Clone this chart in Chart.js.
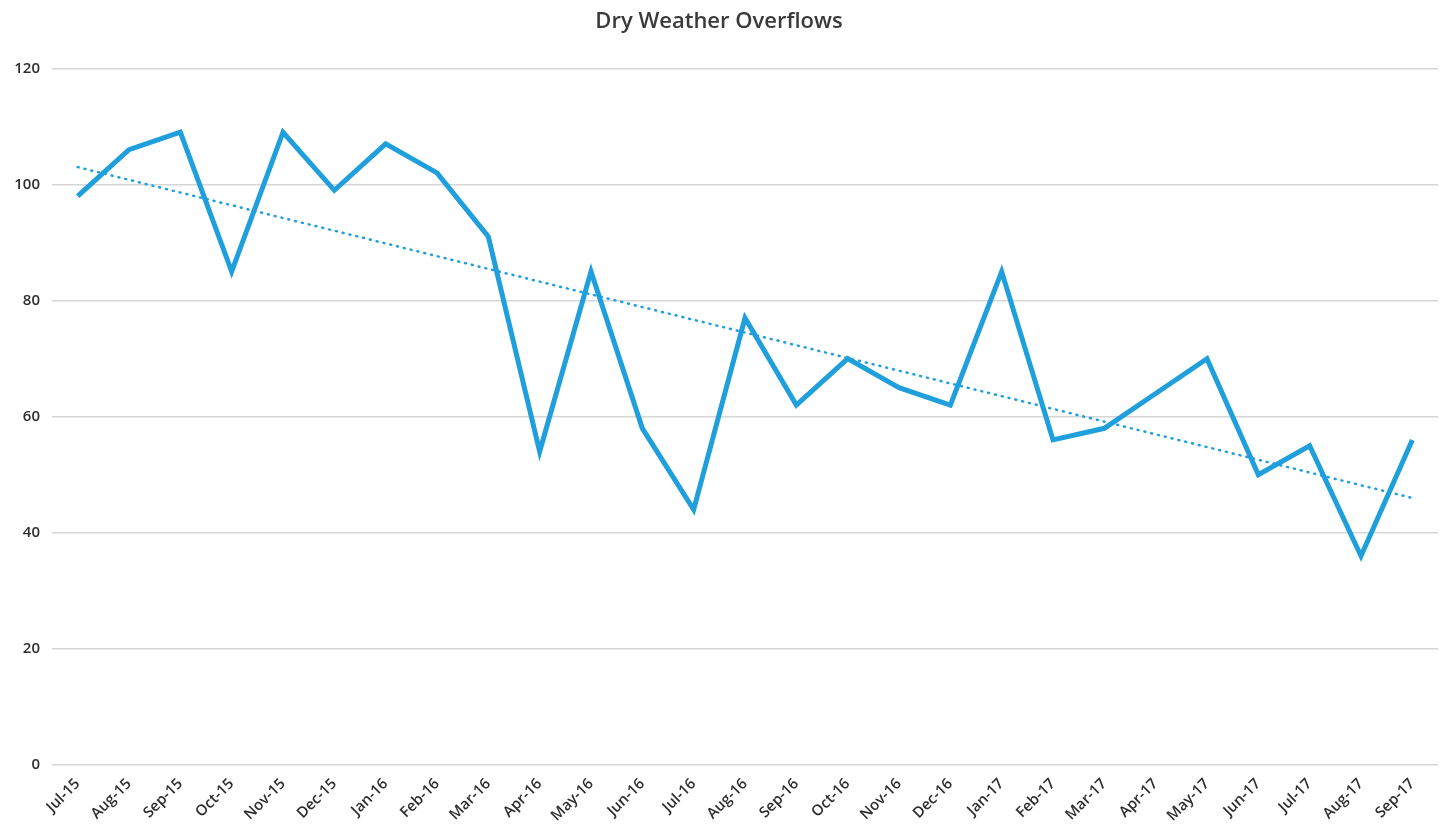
<!DOCTYPE html>
<html>
<head>
<meta charset="utf-8">
<script src="https://cdn.jsdelivr.net/npm/chart.js@4"></script>
<style>
  html, body { margin: 0; padding: 0; background: #ffffff; }
  #wrap { width: 1448px; height: 840px; position: relative; }
</style>
</head>
<body>
<div id="wrap"><canvas id="chart"></canvas></div>
<script>
const months = ['Jul-15', 'Aug-15', 'Sep-15', 'Oct-15', 'Nov-15', 'Dec-15', 'Jan-16', 'Feb-16', 'Mar-16',
    'Apr-16', 'May-16', 'Jun-16', 'Jul-16', 'Aug-16', 'Sep-16', 'Oct-16', 'Nov-16', 'Dec-16',
    'Jan-17', 'Feb-17', 'Mar-17', 'Apr-17', 'May-17', 'Jun-17', 'Jul-17', 'Aug-17', 'Sep-17'];
const overflows = [98, 106, 109, 85, 109, 99, 107, 102, 91,
    54, 85, 58, 44, 77, 62, 70, 65, 62,
    85, 56, 58, 64, 70, 50, 55, 36, 56];
// trend line at its two ends
const trend = [103, null, null, null, null, null, null, null, null,
    null, null, null, null, null, null, null, null, null,
    null, null, null, null, null, null, null, null, 46];

const blue = '#1f9fdc';

const ctx = document.getElementById('chart').getContext('2d');
new Chart(ctx, {
    type: 'line',
    data: {
        labels: months,
        datasets: [{
            label: 'Dry Weather Overflows',
            data: overflows,
            borderColor: blue,
            borderWidth: 5,
            pointRadius: 0,
            tension: 0,
            borderJoinStyle: 'miter',
            fill: false
        }, {
            label: 'Trend',
            data: trend,
            borderColor: blue,
            borderWidth: 2.5,
            borderDash: [1, 6],
            borderCapStyle: 'round',
            pointRadius: 0,
            spanGaps: true,
            fill: false
        }]
    },
    options: {
        responsive: true,
        maintainAspectRatio: false,
        animation: false,
        layout: { padding: { top: 5, right: 10, left: 0, bottom: 0 } },
        plugins: {
            legend: { display: false },
            tooltip: { enabled: false },
            title: {
                display: true,
                text: 'Dry Weather Overflows',
                color: '#3a3a3a',
                font: { family: 'Open Sans', size: 22, weight: '600' },
                padding: { top: 4, bottom: 33 }
            }
        },
        scales: {
            x: {
                offset: true,
                grid: { display: false },
                border: { display: false },
                ticks: {
                    color: '#2e2e2e',
                    font: { family: 'Open Sans', size: 15, weight: '600' },
                    maxRotation: 45,
                    minRotation: 45,
                    autoSkip: false,
                    padding: 2
                },
                afterFit: (scale) => { scale.height = 75; }
            },
            y: {
                min: 0,
                max: 120,
                grid: { color: '#d6d6d6', lineWidth: 1.5, drawTicks: false },
                border: { display: false },
                ticks: {
                    stepSize: 20,
                    color: '#2e2e2e',
                    font: { family: 'Open Sans', size: 15, weight: '600' },
                    padding: 12
                },
                afterFit: (scale) => { scale.width = 52; }
            }
        }
    }
});
</script>
</body>
</html>
